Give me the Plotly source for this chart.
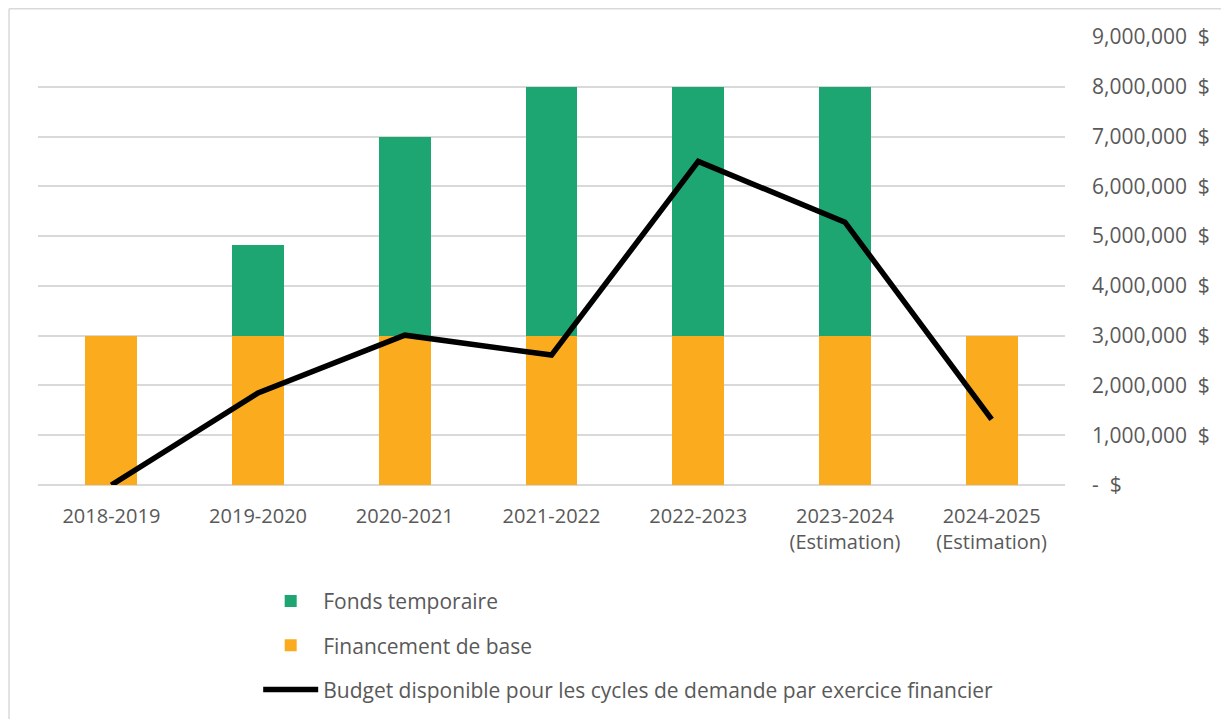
import plotly.graph_objects as go

categories = ["2018-2019", "2019-2020", "2020-2021", "2021-2022", "2022-2023",
              "2023-2024<br>(Estimation)", "2024-2025<br>(Estimation)"]
financement_base = [3000000, 3000000, 3000000, 3000000, 3000000, 3000000, 3000000]
fonds_temporaire = [0, 1820000, 4000000, 5000000, 5000000, 5000000, 0]
budget_disponible = [0, 1850000, 3010000, 2610000, 6500000, 5280000, 1320000]
tick_vals = [0, 1000000, 2000000, 3000000, 4000000, 5000000, 6000000, 7000000, 8000000, 9000000]
tick_text = ["-  $", "1,000,000  $", "2,000,000  $", "3,000,000  $", "4,000,000  $",
             "5,000,000  $", "6,000,000  $", "7,000,000  $", "8,000,000  $", "9,000,000  $"]

FONT = "Open Sans"
TXT = "#595959"
FS = 20

fig = go.Figure()
fig.add_trace(go.Bar(x=categories, y=financement_base, name="Financement de base",
                     marker=dict(color="#FBAC1E", line=dict(width=0)),
                     legendgroup="b", legendrank=2))
fig.add_trace(go.Bar(x=categories, y=fonds_temporaire, name="Fonds temporaire",
                     marker=dict(color="#1DA672", line=dict(width=0)),
                     legendgroup="a", legendrank=1))
fig.add_trace(go.Scatter(x=categories, y=budget_disponible, mode="lines",
                         name="Budget disponible pour les cycles de demande par exercice financier",
                         line=dict(color="#000000", width=5.5),
                         legendgroup="c", legendrank=3))

fig.update_layout(
    width=1229, height=719,
    margin=dict(l=30, r=172, t=29, b=242),
    paper_bgcolor="white", plot_bgcolor="white",
    barmode="stack", bargap=0.646,
    font=dict(family=FONT, size=FS, color=TXT),
    showlegend=True,
    legend=dict(orientation="v", x=0.2144, y=-0.214, xanchor="left", yanchor="top",
                traceorder="grouped", tracegroupgap=14,
                font=dict(family=FONT, size=21, color=TXT), itemwidth=55,
                bgcolor="rgba(0,0,0,0)"),
    xaxis=dict(showgrid=False, showline=False, ticks="", ticklabelstandoff=17,
               tickfont=dict(family=FONT, size=FS, color=TXT)),
    yaxis=dict(side="right", range=[0, 9000000], tickvals=tick_vals, ticktext=tick_text,
               showgrid=True, gridcolor="#D9D9D9", gridwidth=1.5, zeroline=True,
               zerolinecolor="#D9D9D9", zerolinewidth=1.5, showline=False, ticks="",
               ticklabelstandoff=26, tickfont=dict(family=FONT, size=21, color=TXT)),
    shapes=[
        dict(type="line", xref="paper", yref="paper", x0=-0.0282, x1=1.3, y0=1.063, y1=1.063,
             line=dict(color="#D9D9D9", width=1.5)),
        dict(type="line", xref="paper", yref="paper", x0=-0.0282, x1=-0.0282, y0=1.063, y1=-0.6,
             line=dict(color="#D9D9D9", width=1.5)),
    ],
)

fig.write_html("out.html")
